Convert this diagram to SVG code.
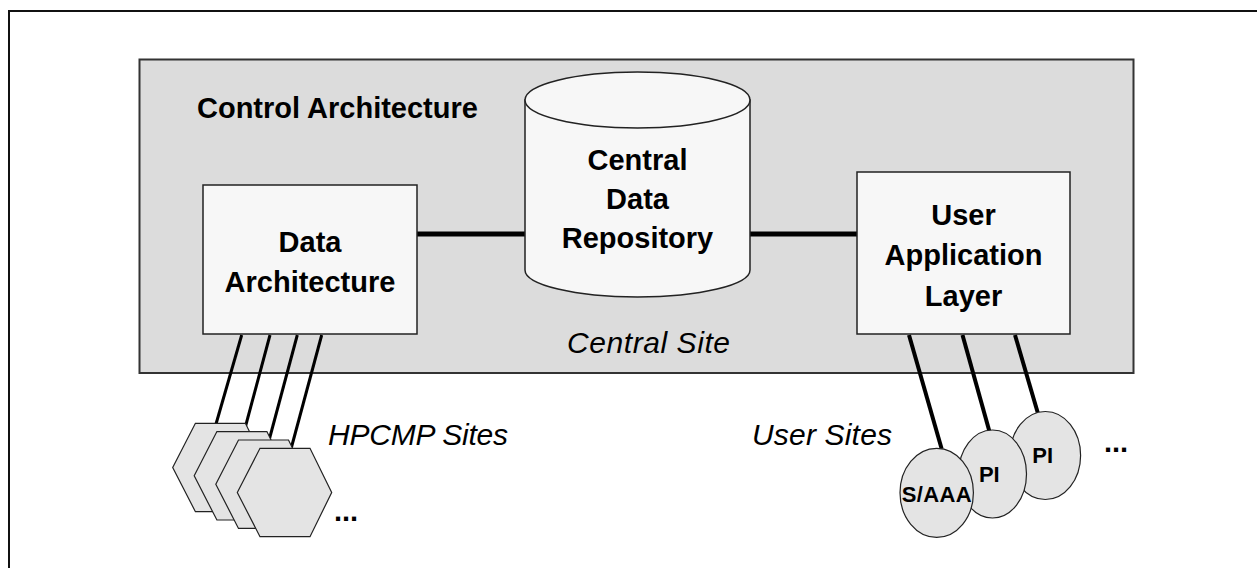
<svg xmlns="http://www.w3.org/2000/svg" width="1257" height="568" viewBox="0 0 1257 568">
  <style>
    .frame { fill: none; stroke: #111; stroke-width: 2; }
    .panel { fill: #dcdcdc; stroke: #333; stroke-width: 2; }
    .box { fill: #f7f7f7; stroke: #222; stroke-width: 1.5; }
    .site { fill: #e4e4e4; stroke: #222; stroke-width: 1.2; }
    .link { stroke: #000; fill: none; stroke-linecap: butt; }
    .bold { font-family: "Liberation Sans", Arial, sans-serif; font-weight: bold; fill: #000; }
    .ital { font-family: "Liberation Sans", Arial, sans-serif; font-style: italic; fill: #000; font-size: 30px; }
    .label { font-size: 29px; text-anchor: middle; }
    .small { font-size: 22px; text-anchor: middle; }
    .more { font-size: 29px; }
  </style>
  <defs>
    <polygon id="hex" points="0,0 22.7,-44.2 72.7,-44.2 94.4,0 72.7,44.2 22.7,44.2"/>
  </defs>

  <rect width="1257" height="568" fill="#ffffff"/>
  <!-- page frame (top and left edges) -->
  <path class="frame" d="M9,568 V11 H1257"/>

  <!-- control architecture panel -->
  <g id="control-architecture">
    <rect class="panel" x="139.5" y="59.5" width="994" height="313.5"/>
    <text class="bold" x="197" y="118" font-size="29">Control Architecture</text>
    <text class="ital" x="567" y="353" textLength="163">Central Site</text>
  </g>

  <!-- connectors -->
  <g id="connectors">
    <line class="link" x1="417" y1="234" x2="525" y2="234" stroke-width="5"/>
    <line class="link" x1="750" y1="234" x2="857" y2="234" stroke-width="5"/>
    <!-- data architecture to HPCMP sites -->
    <line class="link" x1="241.7" y1="335" x2="216" y2="424" stroke-width="3"/>
    <line class="link" x1="270" y1="335" x2="244" y2="432" stroke-width="3"/>
    <line class="link" x1="297.3" y1="335" x2="269" y2="440.5" stroke-width="3"/>
    <line class="link" x1="321.7" y1="335" x2="291" y2="449" stroke-width="3"/>
    <!-- user application layer to user sites -->
    <line class="link" x1="909" y1="335" x2="941.7" y2="449" stroke-width="4"/>
    <line class="link" x1="962.5" y1="335" x2="989.3" y2="431" stroke-width="4"/>
    <line class="link" x1="1015" y1="335" x2="1037.7" y2="412.5" stroke-width="4"/>
  </g>

  <g id="data-architecture">
    <rect class="box" x="203" y="185" width="214" height="149"/>
    <text class="bold label" x="310" y="252">Data</text>
    <text class="bold label" x="310" y="292">Architecture</text>
  </g>

  <g id="central-data-repository">
    <path class="box" d="M525,100 V270 A112.5,27 0 0 0 750,270 V100 Z"/>
    <ellipse class="box" cx="637.5" cy="100" rx="112.5" ry="28"/>
    <text class="bold label" x="637.5" y="170">Central</text>
    <text class="bold label" x="637.5" y="209">Data</text>
    <text class="bold label" x="637.5" y="248">Repository</text>
  </g>

  <g id="user-application-layer">
    <rect class="box" x="857" y="172" width="213" height="162"/>
    <text class="bold label" x="963.5" y="225">User</text>
    <text class="bold label" x="963.5" y="265">Application</text>
    <text class="bold label" x="963.5" y="306">Layer</text>
  </g>

  <g id="hpcmp-sites">
    <use href="#hex" class="site" x="172.7" y="467.5"/>
    <use href="#hex" class="site" x="194.2" y="475.8"/>
    <use href="#hex" class="site" x="215.8" y="484.2"/>
    <use href="#hex" class="site" x="237.3" y="492.5"/>
    <text class="ital" x="328" y="445" textLength="180">HPCMP Sites</text>
    <text class="bold more" x="334" y="521">...</text>
  </g>

  <g id="user-sites">
    <ellipse class="site" cx="1045.3" cy="455.5" rx="35.3" ry="44"/>
    <text class="bold small" x="1042.7" y="463.3">PI</text>
    <ellipse class="site" cx="992.5" cy="474" rx="34" ry="44"/>
    <text class="bold small" x="989.3" y="481.7">PI</text>
    <ellipse class="site" cx="936.7" cy="492.8" rx="36.7" ry="44.5"/>
    <text class="bold small" x="936.7" y="501.7" textLength="70">S/AAA</text>
    <text class="ital" x="752" y="445" textLength="140">User Sites</text>
    <text class="bold more" x="1104" y="452">...</text>
  </g>
</svg>
